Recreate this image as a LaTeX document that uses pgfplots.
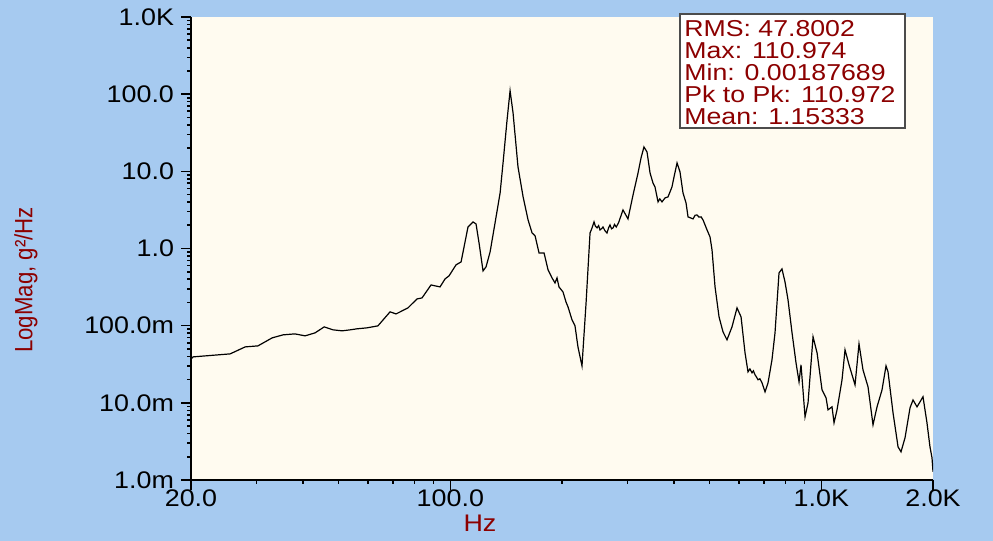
\documentclass[border=0pt]{standalone}
\usepackage{fontspec}
\setmainfont[FakeStretch=1.12]{Liberation Sans}
\newfontfamily\statfont[FakeStretch=1.16]{Liberation Sans}
\newfontfamily\ylabfont[FakeStretch=0.89]{Liberation Sans}
\usepackage{pgfplots}
\pgfplotsset{compat=1.18}
\usepackage{pgfplotstable}
\definecolor{bgblue}{RGB}{166,202,240}
\definecolor{plotbg}{RGB}{255,251,240}
\definecolor{dred}{RGB}{140,0,0}

\pgfplotstableread{
f y
20.0 0.0370
20.25 0.0394
25.5 0.0431
28.0 0.0531
30.3 0.0547
33.1 0.0695
35.4 0.0760
38.1 0.0783
40.6 0.0738
43.2 0.0807
45.7 0.0964
48.3 0.0883
51.1 0.0857
53.7 0.0883
56.0 0.0910
59.6 0.0937
63.8 0.0994
65.9 0.119
68.8 0.151
71.4 0.142
76.9 0.170
81.3 0.222
83.9 0.229
88.7 0.337
93.8 0.318
96.8 0.404
99.2 0.442
103.6 0.614
106.9 0.670
111.6 1.905
115.1 2.21
117.3 2.08
119.5 1.18
122.5 0.513
124.8 0.578
128.0 0.904
132.0 2.15
136.2 5.25
138.7 12.85
142.2 46.3
144.9 110.9
147.6 57.1
152.2 11.4
157.1 4.66
162.0 2.35
166.1 1.59
169.2 1.46
173.4 0.877
178.9 0.877
183.4 0.528
188.0 0.416
191.5 0.358
193.9 0.416
196.3 0.318
201.2 0.274
205.0 0.203
207.6 0.175
212.8 0.119
216.8 0.0994
220.8 0.0531
226.4 0.0301
232.2 0.197
238.0 1.59
241.0 1.85
244.0 2.21
246.0 1.95
248.6 1.85
251.0 1.98
253.2 1.74
256.0 1.82
258.0 1.90
261.0 1.70
264.4 1.59
267.0 1.85
269.4 2.02
272.0 1.80
274.6 1.85
277.0 2.05
280.0 1.90
284.0 2.15
292.0 3.16
301.2 2.42
310.8 4.94
320.6 9.53
326.6 14.9
332.6 20.7
339.0 17.8
345.4 9.53
351.8 7.07
356.2 6.28
363.0 4.02
367.0 4.40
372.0 4.02
379.0 4.52
386.2 4.66
395.8 6.28
400.8 8.46
408.4 12.85
416.0 9.82
423.8 5.25
431.8 3.90
437.2 2.57
451.0 2.42
457.0 2.70
462.4 2.72
468.0 2.55
474.0 2.57
479.8 2.35
492.0 1.74
501.2 1.41
507.4 0.96
517.0 0.318
530.0 0.130
543.2 0.0832
556.8 0.0655
574.4 0.0964
592.6 0.170
607.6 0.130
622.8 0.0445
634.4 0.0252
642.0 0.0275
650.4 0.0245
656.0 0.0260
662.6 0.0231
669.0 0.0215
675.2 0.0199
683.0 0.0205
692.0 0.0182
705.2 0.0139
718.4 0.0182
736.2 0.0361
750.2 0.0807
769.2 0.483
783.4 0.544
798.2 0.369
813.2 0.216
833.8 0.0807
854.6 0.0330
870.8 0.0187
881.6 0.0311
903.8 0.00659
920.8 0.0100
949.8 0.0716
973.8 0.0445
1004.4 0.0147
1029.8 0.0116
1042.4 0.00811
1068.6 0.00887
1082.0 0.00551
1102.2 0.00811
1137.0 0.0199
1158.4 0.0486
1187.6 0.0311
1232.6 0.0171
1263.4 0.0581
1295.2 0.0267
1336.2 0.0161
1378.2 0.00519
1413.0 0.00887
1457.4 0.0147
1494.0 0.0301
1512.8 0.0252
1560.6 0.00741
1609.8 0.00269
1639.8 0.00232
1681.0 0.00352
1734.0 0.00861
1766.6 0.0109
1811.2 0.00887
1845.2 0.0103
1879.6 0.0120
1926.8 0.00551
1963.0 0.00269
1987.6 0.00194
2000.0 0.00128
}\psd

\begin{document}
\begin{tikzpicture}[x=1pt,y=1pt]
\fill[bgblue] (-95.5,-30.5) rectangle (401,240);
\begin{axis}[
  at={(0,0)}, anchor=south west,
  scale only axis, width=371pt, height=231.5pt,
  xmode=log, ymode=log,
  xmin=20, xmax=2000, ymin=1e-3, ymax=1e3,
  axis x line*=bottom, axis y line*=left,
  axis line style={-, black, line width=0.9pt},
  axis background/.style={fill=plotbg},
  xtick={20,100,1000,2000}, xticklabels={20.0,100.0,1.0K,2.0K},
  minor xtick={30,40,50,60,70,80,90,200,300,400,500,600,700,800,900},
  ytick={1e-3,1e-2,1e-1,1,10,100,1000},
  yticklabels={1.0m,10.0m,100.0m,1.0,10.0,100.0,1.0K},
  minor ytick={2e-3,3e-3,4e-3,5e-3,6e-3,7e-3,8e-3,9e-3,
               2e-2,3e-2,4e-2,5e-2,6e-2,7e-2,8e-2,9e-2,
               0.2,0.3,0.4,0.5,0.6,0.7,0.8,0.9,
               2,3,4,5,6,7,8,9,20,30,40,50,60,70,80,90,
               200,300,400,500,600,700,800,900},
  tick align=outside,
  major tick length=5pt, minor tick length=2pt,
  tick style={black, line width=0.8pt},
  ticklabel style={font=\fontsize{12}{14}\selectfont, text=black},
  xticklabel style={yshift=3.5pt},
  clip=true,
]
\addplot[black, line width=0.6pt, no markers] table[x=f, y=y] {\psd};
\end{axis}
\node[rotate=90, text=dred, font=\ylabfont\fontsize{12.5}{14}\selectfont] at (-82.5,100) {LogMag, g²/Hz};
\node[text=dred, font=\fontsize{12}{14}\selectfont] at (144.5,-21.5) {Hz};
\draw[fill=white, draw=black!70, line width=0.6pt] (244.5,176) rectangle (357,233);
\node[anchor=north west, align=left, inner sep=0pt, text=dred,
      font=\statfont\fontsize{11.5}{11}\selectfont] at (246.5,230)
  {RMS: 47.8002\\Max: 110.974\\Min: 0.00187689\\Pk to Pk: 110.972\\Mean: 1.15333};
\end{tikzpicture}
\end{document}
